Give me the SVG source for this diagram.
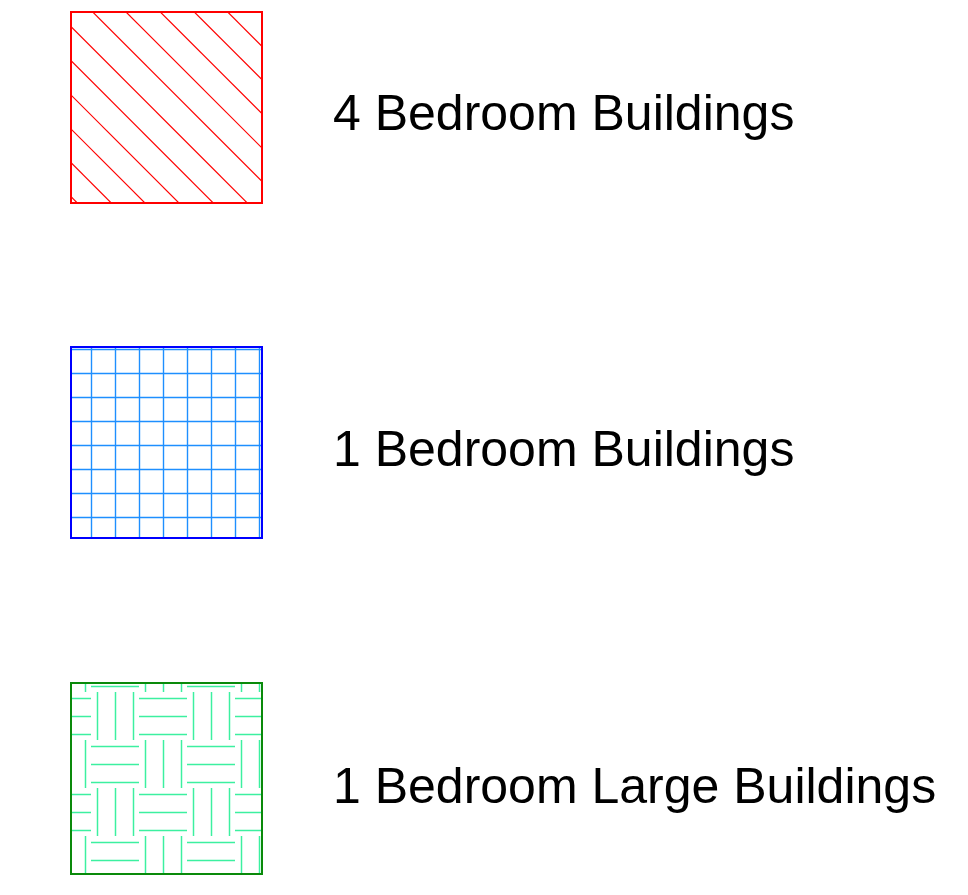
<svg xmlns="http://www.w3.org/2000/svg" width="968" height="895" viewBox="0 0 968 895">
  <style>
    .label { font-family: "Liberation Sans", Arial, sans-serif; font-size: 50px; fill: #000; }
    .hatch line { stroke: #ff0000; stroke-width: 1.2; }
    .gridl { stroke: #1e8fff; stroke-width: 1.4; }
    .weave { stroke: #3cf0a0; stroke-width: 1.5; }
  </style>
  <defs>
    <clipPath id="clipRed"><rect x="71" y="12" width="191" height="191"/></clipPath>
    <pattern id="basket" patternUnits="userSpaceOnUse" x="43" y="644" width="96" height="96">
      <g class="weave">
        <line x1="6.5" y1="0" x2="6.5" y2="48"/>
        <line x1="24.5" y1="0" x2="24.5" y2="48"/>
        <line x1="42.5" y1="0" x2="42.5" y2="48"/>
        <line x1="48" y1="6.5" x2="96" y2="6.5"/>
        <line x1="48" y1="24.5" x2="96" y2="24.5"/>
        <line x1="48" y1="42.5" x2="96" y2="42.5"/>
        <line x1="0" y1="54.5" x2="48" y2="54.5"/>
        <line x1="0" y1="72.5" x2="48" y2="72.5"/>
        <line x1="0" y1="90.5" x2="48" y2="90.5"/>
        <line x1="54.5" y1="48" x2="54.5" y2="96"/>
        <line x1="72.5" y1="48" x2="72.5" y2="96"/>
        <line x1="90.5" y1="48" x2="90.5" y2="96"/>
      </g>
    </pattern>
  </defs>

  <g id="legend-4-bedroom">
    <g class="hatch" clip-path="url(#clipRed)">
      <line x1="215.7" y1="0" x2="435.7" y2="220"/>
      <line x1="182.3" y1="0" x2="402.3" y2="220"/>
      <line x1="148.3" y1="0" x2="368.3" y2="220"/>
      <line x1="114" y1="0" x2="334" y2="220"/>
      <line x1="80.7" y1="0" x2="300.7" y2="220"/>
      <line x1="44.3" y1="0" x2="264.3" y2="220"/>
      <line x1="10.3" y1="0" x2="230.3" y2="220"/>
      <line x1="-24" y1="0" x2="196" y2="220"/>
      <line x1="-58" y1="0" x2="162" y2="220"/>
      <line x1="-91.7" y1="0" x2="128.3" y2="220"/>
      <line x1="-125.7" y1="0" x2="94.3" y2="220"/>
    </g>
    <rect x="71" y="12" width="191" height="191" fill="none" stroke="#ff0000" stroke-width="2"/>
    <text class="label" x="333" y="130">4 Bedroom Buildings</text>
  </g>

  <g id="legend-1-bedroom">
    <g class="gridl">
      <line x1="91.5" y1="347" x2="91.5" y2="538"/>
      <line x1="115.5" y1="347" x2="115.5" y2="538"/>
      <line x1="139.5" y1="347" x2="139.5" y2="538"/>
      <line x1="163.5" y1="347" x2="163.5" y2="538"/>
      <line x1="187.5" y1="347" x2="187.5" y2="538"/>
      <line x1="211.5" y1="347" x2="211.5" y2="538"/>
      <line x1="235.5" y1="347" x2="235.5" y2="538"/>
      <line x1="259.5" y1="347" x2="259.5" y2="538"/>
      <line x1="71" y1="349.5" x2="262" y2="349.5"/>
      <line x1="71" y1="373.5" x2="262" y2="373.5"/>
      <line x1="71" y1="397.5" x2="262" y2="397.5"/>
      <line x1="71" y1="421.5" x2="262" y2="421.5"/>
      <line x1="71" y1="445.5" x2="262" y2="445.5"/>
      <line x1="71" y1="469.5" x2="262" y2="469.5"/>
      <line x1="71" y1="493.5" x2="262" y2="493.5"/>
      <line x1="71" y1="517.5" x2="262" y2="517.5"/>
    </g>
    <rect x="71" y="347" width="191" height="191" fill="none" stroke="#0000ff" stroke-width="2"/>
    <text class="label" x="333" y="466">1 Bedroom Buildings</text>
  </g>

  <g id="legend-1-bedroom-large">
    <rect x="71" y="683" width="191" height="191" fill="url(#basket)" stroke="#0a8a0a" stroke-width="2"/>
    <text class="label" x="333" y="803">1 Bedroom Large Buildings</text>
  </g>
</svg>
